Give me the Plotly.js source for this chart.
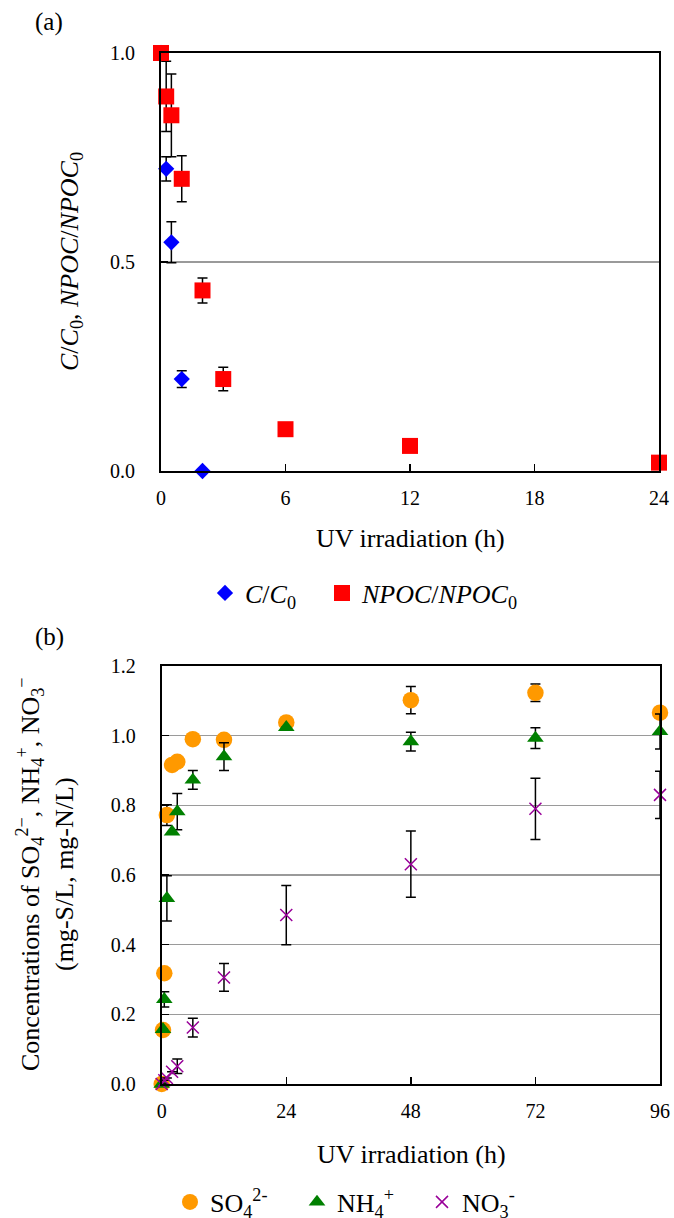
<!DOCTYPE html>
<html><head><meta charset="utf-8">
<script src="https://cdn.plot.ly/plotly-3.0.1.min.js"></script>
<style>html,body{margin:0;padding:0;background:#fff;overflow:hidden}</style>
</head><body><div id="chart" style="width:674px;height:1218px"></div>
<script>
// Panel (a)
const timeC = [0, 0.25, 0.5, 1, 2];
const ratioC = [1.0, 0.723, 0.547, 0.220, 0.0];
const errC = [0, 0.029, 0.049, 0.02, 0];
const timeNPOC = [0, 0.25, 0.5, 1, 2, 3, 6, 12, 24];
const ratioNPOC = [1.0, 0.896, 0.851, 0.699, 0.432, 0.220, 0.100, 0.060, 0.020];
const errNPOC = [0, 0.084, 0.099, 0.055, 0.030, 0.028, 0, 0, 0];
const ticksA = [0, 6, 12, 18, 24];
// Panel (b)
const timeB = [0, 0.25, 0.5, 1, 2, 3, 6, 12, 24, 48, 72, 96];
const so4 = [0, 0.155, 0.318, 0.772, 0.916, 0.925, 0.990, 0.988, 1.038, 1.102, 1.123, 1.066];
const so4Err = [0, 0, 0, 0.03, 0, 0, 0, 0, 0.01, 0.039, 0.025, 0];
const nh4 = [0, 0.157, 0.243, 0.533, 0.724, 0.782, 0.873, 0.940, 1.024, 0.983, 0.993, 1.012];
const nh4Err = [0, 0, 0.022, 0.065, 0, 0.052, 0.027, 0.04, 0, 0.027, 0.03, 0.05];
const timeNO3 = [0, 0.5, 1, 2, 3, 6, 12, 24, 48, 72, 96];
const no3 = [0, 0.011, 0.017, 0.035, 0.051, 0.162, 0.306, 0.485, 0.631, 0.790, 0.830];
const no3Err = [0, 0, 0, 0, 0.021, 0.027, 0.04, 0.085, 0.095, 0.088, 0.068];
const ticksB = [0, 24, 48, 72, 96];

const FONT = "'Liberation Serif', 'Times New Roman', Times, serif";
function eb(arr){return {type:'data', array:arr, visible:true, color:'#000', thickness:1.5, width:5};}

const traces = [
  {x: timeC, y: ratioC, error_y: eb(errC), mode:'markers', type:'scatter', cliponaxis:false,
   name:'<i>C</i>/<i>C</i><sub>0</sub>', marker:{symbol:'diamond', size:12.5, color:'#0000FF'},
   xaxis:'x', yaxis:'y', legend:'legend'},
  {x: timeNPOC, y: ratioNPOC, error_y: eb(errNPOC), mode:'markers', type:'scatter', cliponaxis:false,
   name:'<i>NPOC</i>/<i>NPOC</i><sub>0</sub>', marker:{symbol:'square', size:16, color:'#FF0000'},
   xaxis:'x', yaxis:'y', legend:'legend2'},
  {x: timeB, y: so4, error_y: eb(so4Err), mode:'markers', type:'scatter', cliponaxis:false,
   name:'SO<sub>4</sub><sup>2-</sup>', marker:{symbol:'circle', size:16.5, color:'#FF9900'},
   xaxis:'x2', yaxis:'y2', legend:'legend3'},
  {x: timeB, y: nh4, error_y: eb(nh4Err), mode:'markers', type:'scatter', cliponaxis:false,
   name:'NH<sub>4</sub><sup>+</sup>', marker:{symbol:'triangle-up', size:14.5, color:'#008000'},
   xaxis:'x2', yaxis:'y2', legend:'legend4'},
  {x: timeNO3, y: no3, error_y: eb(no3Err), mode:'markers', type:'scatter', cliponaxis:false,
   name:'NO<sub>3</sub><sup>-</sup>', marker:{symbol:'x-thin', size:12, color:'#990099', line:{width:1.5, color:'#990099'}},
   xaxis:'x2', yaxis:'y2', legend:'legend5'}
];

const W = 674, H = 1218;
function axX(domain, range, tv, anchor){
  return {domain: domain, range: range, tickvals: tv, ticktext: tv.map(String), ticks:'inside', ticklen:7, tickwidth:1.5, tickcolor:'#000',
    showline:true, linewidth:2, linecolor:'#000', mirror:true, showgrid:false, zeroline:false, anchor: anchor,
    tickfont:{family:FONT, size:20, color:'#000'}, ticklabelstandoff:8};
}
function axY(domain, range, dtick, anchor){
  return {domain: domain, range: range, dtick: dtick, tick0:0, tickformat:'.1f', ticks:'inside', ticklen:7, tickwidth:1.5, tickcolor:'#000',
    showline:true, linewidth:2, linecolor:'#000', mirror:true, showgrid:true, gridcolor:'#9a9a9a', gridwidth:1.5, zeroline:false,
    tickfont:{family:FONT, size:20, color:'#000'}, ticklabelstandoff:20, anchor: anchor};
}
function leg(xpx, ypx){
  return {orientation:'h', x:xpx/W, xanchor:'left', y:1-ypx/H, yanchor:'middle', bgcolor:'rgba(0,0,0,0)',
    font:{family:FONT, size:26, color:'#000'}, itemclick:false};
}
function ann(text, xpx, ypx, size, angle){
  return {text:text, xref:'paper', yref:'paper', x:xpx/W, y:1-ypx/H, xanchor:'center', yanchor:'middle',
    showarrow:false, textangle:angle||0, font:{family:FONT, size:size, color:'#000'}};
}

const layout = {
  width: W, height: H, margin:{l:0, r:0, t:0, b:0, autoexpand:false}, paper_bgcolor:'#fff', plot_bgcolor:'#fff',
  font:{family:FONT, color:'#000'},
  xaxis: axX([161/W, 659/W], [0, 24], ticksA, 'y'),
  yaxis: axY([1-471/H, 1-53/H], [0, 1], 0.5, 'x'),
  xaxis2: axX([161.7/W, 660/W], [0, 96], ticksB, 'y2'),
  yaxis2: axY([1-1084/H, 1-666/H], [0, 1.2], 0.2, 'x2'),
  legend: leg(205, 593),
  legend2: leg(322, 593),
  legend3: leg(170, 1202),
  legend4: leg(297, 1202),
  legend5: leg(422, 1202),
  showlegend: true,
  annotations: [
    ann('(a)', 49, 22, 25),
    ann('(b)', 49, 637, 25),
    ann('UV irradiation (h)', 410, 538, 26),
    ann('UV irradiation (h)', 411, 1154, 26),
    ann('<i>C</i>/<i>C</i><sub>0</sub>, <i>NPOC</i>/<i>NPOC</i><sub>0</sub>', 71, 262, 26, -90),
    ann('Concentrations of SO<sub>4</sub><sup>2−</sup>, NH<sub>4</sub><sup>+</sup>, NO<sub>3</sub><sup>−</sup><br>(mg-S/L, mg-N/L)', 45, 874, 26, -90)
  ]
};

Plotly.newPlot('chart', traces, layout, {staticPlot:true, displayModeBar:false});
</script></body></html>
